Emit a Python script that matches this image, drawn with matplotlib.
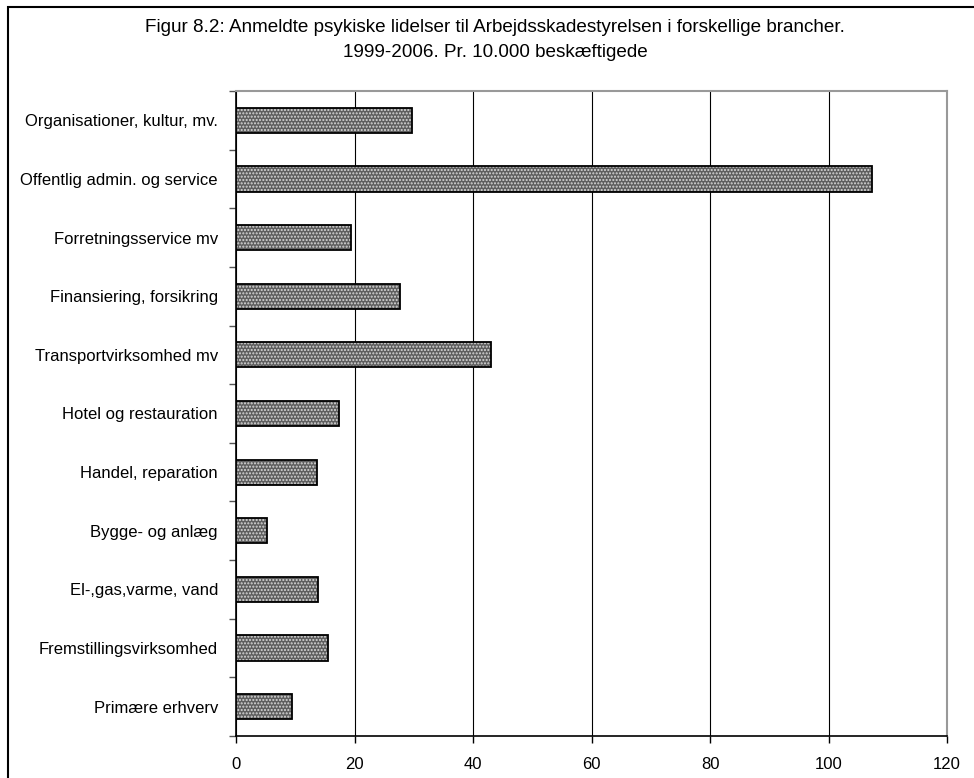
import matplotlib
matplotlib.use("Agg")
import matplotlib.pyplot as plt
from matplotlib.patches import Rectangle
from matplotlib.ticker import FixedLocator, NullFormatter

plt.rcParams['font.family'] = ['Liberation Sans Narrow', 'Liberation Sans', 'DejaVu Sans']

# categories from top to bottom, as in the chart
categories = [
    "Organisationer, kultur, mv.",
    "Offentlig admin. og service",
    "Forretningsservice mv",
    "Finansiering, forsikring",
    "Transportvirksomhed mv",
    "Hotel og restauration",
    "Handel, reparation",
    "Bygge- og anlæg",
    "El-,gas,varme, vand",
    "Fremstillingsvirksomhed",
    "Primære erhverv",
]
values = [29.7, 107.4, 19.4, 27.6, 43.1, 17.3, 13.6, 5.2, 13.9, 15.5, 9.4]
xticks = [0, 20, 40, 60, 80, 100, 120]

title = ("Figur 8.2: Anmeldte psykiske lidelser til Arbejdsskadestyrelsen i forskellige brancher.\n"
         "1999-2006. Pr. 10.000 beskæftigede")

W, H = 974, 778
fig = plt.figure(figsize=(W / 100, H / 100), dpi=100, facecolor='white')

# outer frame (runs off the right and bottom edge)
fig.patches.append(Rectangle((8 / W, -0.05), 1.2, 1 - 7 / H + 0.05,
                             transform=fig.transFigure, fill=False,
                             edgecolor='black', linewidth=1.5))

ax = fig.add_axes([236 / W, 1 - 736 / H, (947 - 236) / W, (736 - 91) / H])

n = len(categories)
ypos = list(range(n))[::-1]

# fill with fine dotted pattern, then a black outline on top
ax.barh(ypos, values, height=0.43, color='#5e5e5e', edgecolor='#d8d8d8',
        hatch='.....', linewidth=0, zorder=3)
ax.barh(ypos, values, height=0.43, fill=False, edgecolor='black',
        linewidth=1.3, zorder=4)

ax.set_xlim(0, 120)
ax.set_ylim(-0.5, n - 0.5)
ax.set_xticks(xticks)
ax.set_xticklabels([str(t) for t in xticks], fontsize=12)

ax.set_yticks(ypos)
ax.set_yticklabels(categories, fontsize=12)
ax.tick_params(axis='y', which='major', length=0, pad=13)
ax.yaxis.set_minor_locator(FixedLocator([i + 0.5 for i in range(-1, n)]))
ax.yaxis.set_minor_formatter(NullFormatter())
ax.tick_params(axis='y', which='minor', length=5, width=1, color='#555555')
ax.tick_params(axis='x', which='major', length=5, width=1, pad=10)

ax.grid(axis='x', color='black', linewidth=0.8, zorder=1)
ax.set_axisbelow(True)

ax.spines['left'].set_color('black')
ax.spines['bottom'].set_color('black')
ax.spines['left'].set_linewidth(1.2)
ax.spines['bottom'].set_linewidth(1.2)
ax.spines['top'].set_color('#999999')
ax.spines['right'].set_color('#999999')
ax.spines['top'].set_linewidth(1.5)
ax.spines['right'].set_linewidth(1.5)

fig.text(495 / W, 1 - 40 / H, title, ha='center', va='center', fontsize=13.6,
         linespacing=1.62)

fig.savefig('out.png', dpi=100, facecolor='white')
